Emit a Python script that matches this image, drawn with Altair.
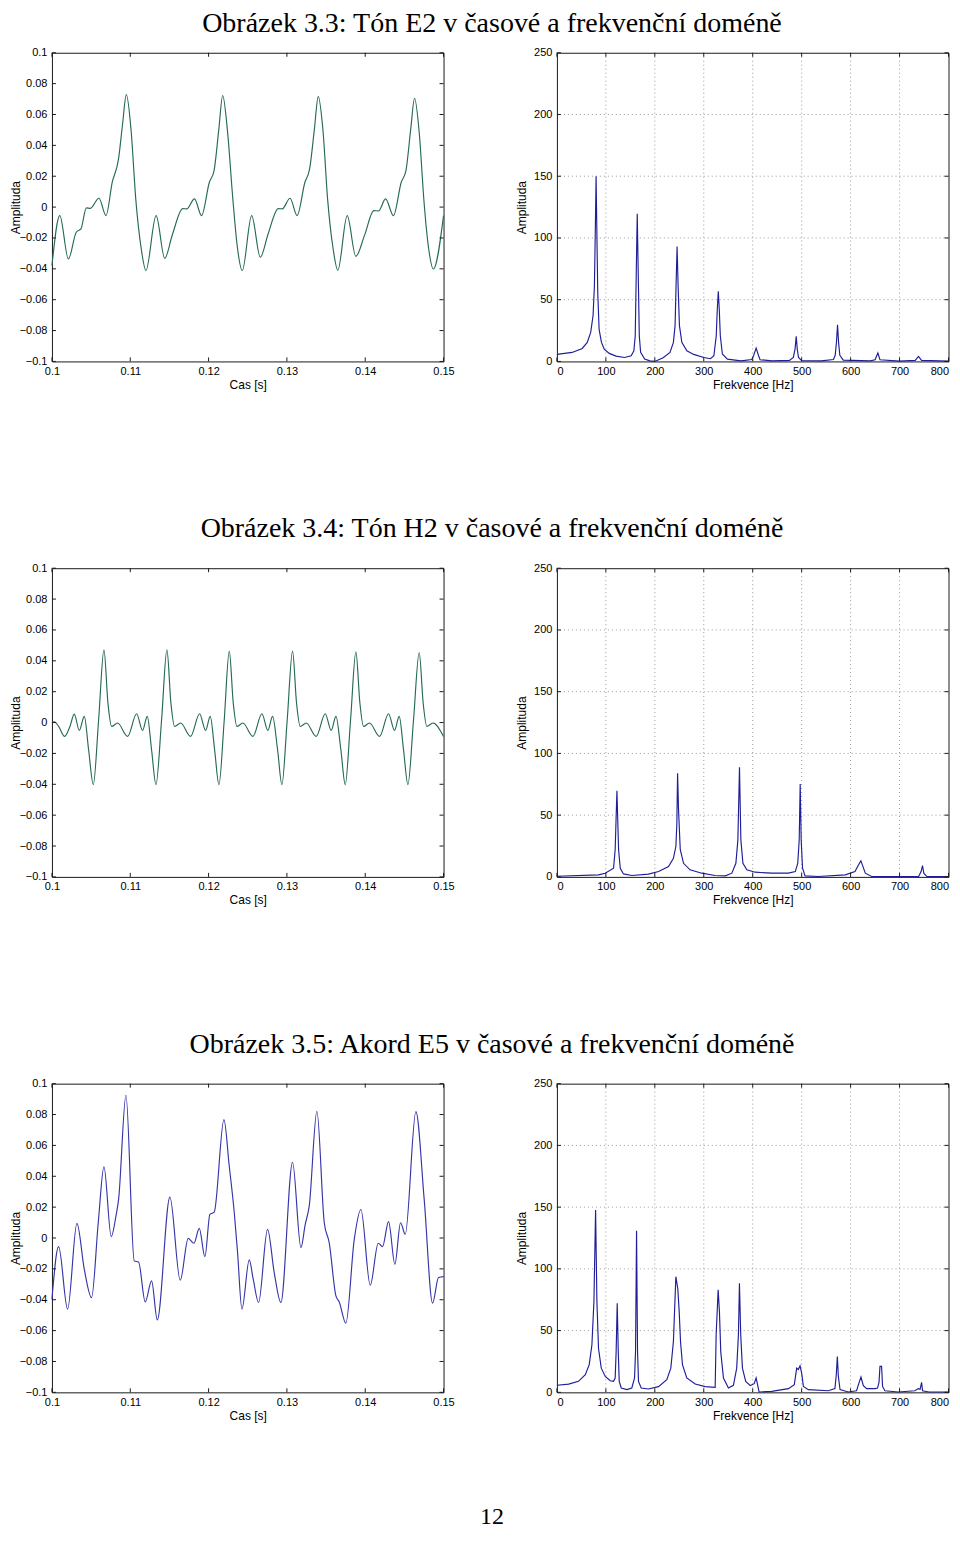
import altair as alt
import pandas as pd

TITLES = [
    "Obrázek 3.3: Tón E2 v časové a frekvenční doméně",
    "Obrázek 3.4: Tón H2 v časové a frekvenční doméně",
    "Obrázek 3.5: Akord E5 v časové a frekvenční doméně",
]
PAGE_NUMBER = "12"

T_TICKS = [0.1, 0.11, 0.12, 0.13, 0.14, 0.15]
A_TICKS = [-0.1, -0.08, -0.06, -0.04, -0.02, 0, 0.02, 0.04, 0.06, 0.08, 0.1]
F_TICKS = [0, 100, 200, 300, 400, 500, 600, 700, 800]
S_TICKS = [0, 50, 100, 150, 200, 250]
F_GRID = [100, 200, 300, 400, 500, 600, 700]
S_GRID = [50, 100, 150, 200]

# ---- Tón E2, time domain ----
E2_T = [0.1000, 0.1010, 0.1021, 0.1031, 0.1037, 0.1044, 0.1049, 0.1060, 0.1069, 0.1077,
        0.1085, 0.1090, 0.1095, 0.1101, 0.1107, 0.1114, 0.1120, 0.1133, 0.1144, 0.1154,
        0.1167, 0.1172, 0.1182, 0.1191, 0.1201, 0.1207, 0.1213, 0.1218, 0.1224, 0.1231,
        0.1237, 0.1243, 0.1255, 0.1266, 0.1276, 0.1289, 0.1294, 0.1304, 0.1313, 0.1323,
        0.1329, 0.1335, 0.1340, 0.1346, 0.1352, 0.1359, 0.1365, 0.1377, 0.1388, 0.1399,
        0.1411, 0.1417, 0.1426, 0.1436, 0.1446, 0.1452, 0.1458, 0.1463, 0.1469, 0.1475,
        0.1481, 0.1487, 0.1500]
E2_Y = [-0.0379, -0.0055, -0.0336, -0.0163, -0.0141, -0.0005, -0.0008, 0.0057, -0.0055, 0.0161,
        0.0312, 0.0530, 0.0729, 0.0500, 0.0053, -0.0270, -0.0411, -0.0055, -0.0332, -0.0174,
        -0.0010, -0.0012, 0.0053, -0.0055, 0.0161, 0.0237, 0.0500, 0.0723, 0.0500, 0.0050,
        -0.0270, -0.0411, -0.0055, -0.0325, -0.0174, -0.0010, -0.0012, 0.0057, -0.0055, 0.0161,
        0.0247, 0.0500, 0.0716, 0.0500, 0.0050, -0.0270, -0.0409, -0.0055, -0.0319, -0.0185,
        -0.0023, -0.0025, 0.0053, -0.0055, 0.0161, 0.0237, 0.0500, 0.0705, 0.0480, 0.0040,
        -0.0270, -0.0401, -0.0055]

# ---- Tón H2, time domain ----
H2_T = [0.10000, 0.10030, 0.10085, 0.10162, 0.10230, 0.10285, 0.10349, 0.10413, 0.10468, 0.10528,
        0.10596, 0.10664, 0.10715, 0.10762, 0.10838, 0.10966, 0.11081, 0.11157, 0.11217, 0.11272,
        0.11328, 0.11400, 0.11468, 0.11519, 0.11566, 0.11643, 0.11770, 0.11885, 0.11962, 0.12021,
        0.12077, 0.12132, 0.12200, 0.12264, 0.12315, 0.12362, 0.12438, 0.12566, 0.12681, 0.12757,
        0.12817, 0.12881, 0.12936, 0.13004, 0.13072, 0.13123, 0.13170, 0.13247, 0.13374, 0.13489,
        0.13566, 0.13626, 0.13689, 0.13745, 0.13813, 0.13881, 0.13932, 0.13979, 0.14055, 0.14183,
        0.14298, 0.14374, 0.14434, 0.14489, 0.14545, 0.14617, 0.14689, 0.14740, 0.14787, 0.14864,
        0.15000]
H2_Y = [-0.0003, 0.0005, -0.0025, -0.0090, -0.0025, 0.0055, -0.0051, 0.0040, -0.0176, -0.0402,
        0.0018, 0.0471, 0.0126, -0.0025, -0.0003, -0.0090, 0.0057, -0.0051, 0.0040, -0.0176,
        -0.0402, 0.0018, 0.0471, 0.0126, -0.0025, -0.0003, -0.0090, 0.0057, -0.0051, 0.0040,
        -0.0176, -0.0402, 0.0018, 0.0463, 0.0126, -0.0025, -0.0003, -0.0090, 0.0057, -0.0051,
        0.0040, -0.0176, -0.0402, 0.0018, 0.0463, 0.0126, -0.0025, -0.0003, -0.0090, 0.0057,
        -0.0051, 0.0040, -0.0176, -0.0402, 0.0018, 0.0458, 0.0126, -0.0025, -0.0003, -0.0090,
        0.0057, -0.0051, 0.0040, -0.0176, -0.0402, 0.0018, 0.0454, 0.0126, -0.0025, -0.0003,
        -0.0090]

# ---- Akord E5, time domain ----
E5_T = [0.10000, 0.10085, 0.10200, 0.10319, 0.10413, 0.10506, 0.10591, 0.10664, 0.10757, 0.10817,
        0.10851, 0.10945, 0.11051, 0.11106, 0.11191, 0.11272, 0.11345, 0.11506, 0.11638, 0.11740,
        0.11813, 0.11881, 0.11953, 0.12017, 0.12072, 0.12196, 0.12264, 0.12328, 0.12370, 0.12426,
        0.12519, 0.12570, 0.12638, 0.12753, 0.12838, 0.12923, 0.13072, 0.13179, 0.13234, 0.13285,
        0.13383, 0.13477, 0.13540, 0.13626, 0.13668, 0.13753, 0.13860, 0.13945, 0.14064, 0.14166,
        0.14221, 0.14298, 0.14379, 0.14451, 0.14511, 0.14647, 0.14753, 0.14860, 0.14936, 0.15000]
E5_Y = [-0.0397, -0.0056, -0.0461, 0.0095, -0.0203, -0.0386, 0.0099, 0.0461, 0.0009, 0.0142,
        0.0250, 0.0925, -0.0149, -0.0155, -0.0414, -0.0278, -0.0530, 0.0265, -0.0274, -0.0002,
        -0.0034, 0.0062, -0.0121, 0.0153, 0.0168, 0.0767, 0.0465, 0.0164, -0.0095, -0.0461,
        -0.0142, -0.0267, -0.0418, 0.0056, -0.0224, -0.0418, 0.0491, -0.0062, 0.0088, 0.0207,
        0.0821, 0.0099, -0.0030, -0.0375, -0.0414, -0.0552, -0.0009, 0.0185, -0.0306, -0.0034,
        -0.0056, 0.0106, -0.0170, 0.0099, 0.0024, 0.0819, 0.0250, -0.0422, -0.0256, -0.0250]

# ---- spectra ----
E2_F = [0, 31, 51.7, 62, 69, 73.8, 76.6, 78.6, 80, 81.4, 83.4, 86.2, 91, 96.6, 107, 120.7, 138,
        151.7, 157.2, 160, 162, 164.1, 166.2, 168.3, 171, 179.3, 189.7, 200, 217, 231, 238, 241.4,
        243.4, 245.5, 247.6, 250.3, 255.2, 265.5, 279.3, 300, 313.8, 320.7, 325.5, 327.6, 329.7,
        331.7, 333.8, 338, 348.3, 376, 398, 401.7, 407, 412, 415, 440, 475, 483, 486.5, 488.9,
        491, 493.6, 500, 540, 565, 568.5, 571, 573.3, 575.5, 578, 585, 640, 650, 655.7, 660, 700,
        732, 738.7, 745, 800]
E2_A = [5.7, 7.3, 10.5, 15.4, 23.5, 37, 61, 110, 150, 110, 56, 26, 15.4, 10, 6.5, 4.3, 3.2,
        4.6, 8.6, 20.8, 69, 119.7, 69, 20.8, 7.3, 1.9, 0.5, 0, 3, 7.3, 15.4, 29,
        61, 93, 61, 29, 15.4, 8.6, 5.7, 3.2, 2.2, 4.6, 20.8, 42, 56.8,
        42, 20.8, 6, 1.9, 0.5, 1.5, 4.6, 10.8, 4.6, 1.4, 0.5, 0.8, 3.2, 10, 20.3,
        10, 3.2, 0.6, 0.5, 1.5, 5, 15, 29.7, 15, 5, 1, 0.5, 1.4, 6.8, 1.4, 0.3,
        0.8, 4, 0.8, 0.3]

H2_F = [0, 85, 98.7, 115.7, 119, 122.6, 126, 129.4, 136, 153, 187, 207.7, 228, 238, 243, 245,
        246.5, 248.5, 252, 258.7, 272, 296, 323, 344, 357.4, 365.6, 369.7, 373, 375.8, 380, 388,
        405, 439, 473, 487, 492, 495, 497, 499, 501.8, 507, 534, 589, 609, 616, 621, 624, 630,
        643, 739, 744, 746.9, 749.5, 755.7, 800]
H2_A = [0.5, 1.6, 3, 7, 22, 69.7, 22, 7, 2.4, 1.1, 2.2, 4.3, 8.4, 15, 24.6, 43,
        84, 54, 22, 11, 5.7, 3, 1.1, 0.8, 3, 11, 30, 88.8, 30, 11, 5.7,
        3.8, 3, 3, 4.3, 11, 30, 75.3, 30, 7, 0.8, 0.3, 1.6, 4.3, 9.7, 13, 9.7, 3,
        0.3, 0.3, 4.3, 9.2, 3, 0.3, 0.3]

E5_F = [0, 23.9, 44, 58, 66, 71.5, 75.6, 79, 81.7, 85, 90.6, 98.8, 109, 115.7, 119, 121, 123.2,
        125.3, 127.3, 131.4, 143, 153, 158.6, 160.6, 162.7, 164.7, 166.7, 172.2, 187, 207.5,
        224.5, 232.7, 238, 243, 247, 249.8, 252.5, 256.5, 265.3, 282.5, 302.9, 323.3, 325.3,
        329.4, 332, 334.7, 340.2, 350.4, 360.6, 367.3, 370.8, 372.9, 375.5, 379, 385.7, 395,
        403, 407, 410, 413, 438.8, 473, 485, 489.8, 493.2, 496.7, 500, 503.5, 513.7, 554.5, 568,
        570.8, 572.9, 574.9, 578.4, 595.3, 612.2, 617, 621.2, 626, 632.7, 649.8, 655, 658, 660,
        663.3, 665.3, 670, 697.3, 731.4, 738.2, 742, 745, 747, 760, 800]
E5_A = [5.7, 6.7, 8.9, 14.3, 22.4, 38.5, 73.5, 147.6, 73.5, 35.5, 19.6, 12.9, 9.4, 8.9, 11.6, 33, 72.1,
        33, 8.9, 3.5, 2.2, 3.5, 11.6, 33, 130.9, 33, 8.9, 3.5, 2.7, 4.6,
        10.2, 19.6, 41.2, 93.7, 83.8, 65.4, 41.2, 22.4, 11.6, 6.7, 4.6, 4.0, 46.6,
        83, 65.4, 33, 11.6, 3.5, 5.7, 19.6, 46.6, 88.3, 46.6, 19.6, 8.9, 5.5,
        7, 11.6, 6, 0.3, 0.8, 3, 6.2, 19.6, 18.5, 21.5, 15.6, 4.8, 2.2, 1.3, 3,
        14.7, 29, 13.2, 2.2, 0.3, 1.3, 7.5, 12.4, 5.4, 3, 3, 3.5, 8.1, 21,
        21, 4.8, 1.3, 0.3, 1.3, 3, 2.5, 8.1, 1.3, 0.3, 0.3]

GREEN = "#256b52"
BLUE_T = "#3535a8"
BLUE_S = "#1e1e98"
FRAME = "#1a1a1a"
SANS = "Liberation Sans"
SERIF = "Liberation Serif"
W, H = 392, 309
TICK = 4
TITLE_X = 440.5            # caption centre, relative to the left plot's left edge
TITLE_Y = [-21, -31, -31]  # caption baseline, relative to the plot top
PAGE_Y = 441               # page number baseline, relative to the last row's plot top


def panel(xv, yv, color, kind, caption=None, cap_y=0, page=False):
    if kind == "time":
        xdom, ydom, xt, yt = [0.1, 0.15], [-0.1, 0.1], T_TICKS, A_TICKS
        xtitle, interp, ytp, flush = "Cas [s]", "monotone", -3, False
    else:
        xdom, ydom, xt, yt = [0, 800], [0, 250], F_TICKS, S_TICKS
        xtitle, interp, ytp, flush = "Frekvence [Hz]", "linear", 5, True

    xaxis = alt.Axis(values=xt, format=".3~g", title=xtitle, domain=False, ticks=False,
                     tickSize=0, grid=False, labelFlush=flush, labelOverlap=False,
                     labelPadding=4, titlePadding=3)
    yaxis = alt.Axis(values=yt, format=".3~g", title="Amplituda", domain=False, ticks=False,
                     tickSize=0, grid=False, labelFlush=False, labelOverlap=False,
                     labelPadding=5, titlePadding=ytp)
    xs = alt.Scale(domain=xdom, nice=False, zero=False)
    ys = alt.Scale(domain=ydom, nice=False, zero=False)

    def X():
        return alt.X("x:Q", scale=xs, axis=xaxis)

    def Y():
        return alt.Y("y:Q", scale=ys, axis=yaxis)

    layers = []
    if kind == "spec":
        layers.append(alt.Chart(pd.DataFrame({"x": F_GRID})).mark_rule(
            color="#9a9a9a", strokeDash=[1, 3], strokeWidth=1).encode(x=X()))
        layers.append(alt.Chart(pd.DataFrame({"y": S_GRID})).mark_rule(
            color="#9a9a9a", strokeDash=[1, 3], strokeWidth=1).encode(y=Y()))

    layers.append(alt.Chart(pd.DataFrame({"x": xv, "y": yv})).mark_line(
        color=color, strokeWidth=1.15, interpolate=interp).encode(x=X(), y=Y()))

    xtd = pd.DataFrame({"x": xt})
    ytd = pd.DataFrame({"y": yt})
    layers.append(alt.Chart(xtd).mark_rule(color=FRAME, strokeWidth=1).encode(
        x=X(), y=alt.value(H), y2=alt.value(H - TICK)))
    layers.append(alt.Chart(xtd).mark_rule(color=FRAME, strokeWidth=1).encode(
        x=X(), y=alt.value(0), y2=alt.value(TICK)))
    layers.append(alt.Chart(ytd).mark_rule(color=FRAME, strokeWidth=1).encode(
        y=Y(), x=alt.value(0), x2=alt.value(TICK)))
    layers.append(alt.Chart(ytd).mark_rule(color=FRAME, strokeWidth=1).encode(
        y=Y(), x=alt.value(W), x2=alt.value(W - TICK)))

    if caption is not None:
        layers.append(alt.Chart(pd.DataFrame({"label": [caption]})).mark_text(
            font=SERIF, fontSize=28, align="center", baseline="alphabetic", color="black"
        ).encode(text="label:N", x=alt.value(TITLE_X), y=alt.value(cap_y)))
    if page:
        layers.append(alt.Chart(pd.DataFrame({"label": [PAGE_NUMBER]})).mark_text(
            font=SERIF, fontSize=24, align="center", baseline="alphabetic", color="black"
        ).encode(text="label:N", x=alt.value(TITLE_X), y=alt.value(PAGE_Y)))
    return alt.layer(*layers).properties(width=W, height=H)


series = [
    (E2_T, E2_Y, GREEN, E2_F, E2_A),
    (H2_T, H2_Y, GREEN, H2_F, H2_A),
    (E5_T, E5_Y, BLUE_T, E5_F, E5_A),
]

rows = []
for i, (tt, yy, col, ff, aa) in enumerate(series):
    row = alt.hconcat(
        panel(tt, yy, col, "time", caption=TITLES[i], cap_y=TITLE_Y[i], page=(i == 2)),
        panel(ff, aa, BLUE_S, "spec"),
        spacing=113.5,
        bounds="flush",
    )
    rows.append(row)

chart = alt.vconcat(*rows, spacing=123).properties(padding=0).configure_view(
    stroke=FRAME, strokeWidth=1
).configure_axis(
    labelFont=SANS, labelFontSize=11, labelColor="black",
    titleFont=SANS, titleFontSize=12, titleFontWeight="normal", titleColor="black",
)

chart.save("out.html", embed_options={"renderer": "svg", "actions": False})
